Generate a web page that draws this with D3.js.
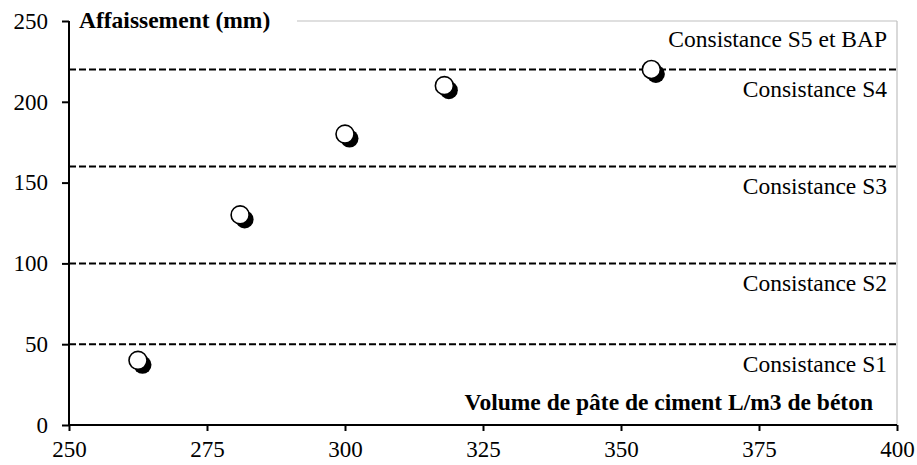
<!DOCTYPE html>
<html>
<head>
<meta charset="utf-8">
<script src="https://cdn.jsdelivr.net/npm/d3@7"></script>
<style>
  html, body { margin: 0; padding: 0; background: #fff; }
  svg text { font-family: "Liberation Serif", "Times New Roman", serif; fill: #000; }
</style>
</head>
<body>
<svg id="chart" width="917" height="465"></svg>
<script>
// -------------------------
// Data
// -------------------------
const volume = [262.5, 281, 300, 318, 355.5];
const slump = [40, 130, 180, 210, 220];
const xTicks = [250, 275, 300, 325, 350, 375, 400];
const yTicks = [0, 50, 100, 150, 200, 250];
const classLimits = [50, 100, 160, 220];
const classLabels = ["Consistance S1", "Consistance S2", "Consistance S3", "Consistance S4", "Consistance S5 et BAP"];
const classLabelY = [50, 100, 160, 220, 220];
const classLabelSide = ["below", "below", "below", "below", "above"];

// -------------------------
// Layout
// -------------------------
const W = 917, H = 465;
const margin = {top: 21, right: 20, bottom: 40, left: 69};
const FONT = '"Liberation Serif", "Times New Roman", serif';
const svg = d3.select("#chart");

const x = d3.scaleLinear().domain([250, 400]).range([margin.left, W - margin.right]);
const y = d3.scaleLinear().domain([0, 250]).range([H - margin.bottom, margin.top]);

// plot area border (light grey, top and right)
svg.append("line")
    .attr("x1", 297).attr("x2", x(400))
    .attr("y1", y(250)).attr("y2", y(250))
    .attr("stroke", "#c0c0c0").attr("stroke-width", 1.2);
svg.append("line")
    .attr("x1", x(400)).attr("x2", x(400))
    .attr("y1", y(250)).attr("y2", y(0))
    .attr("stroke", "#c0c0c0").attr("stroke-width", 1.2);

// class limits
svg.selectAll("line.limit")
    .data(classLimits)
    .enter().append("line")
    .attr("class", "limit")
    .attr("x1", x(250)).attr("x2", x(400))
    .attr("y1", d => y(d)).attr("y2", d => y(d))
    .attr("stroke", "#000")
    .attr("stroke-width", 2)
    .attr("stroke-dasharray", "7,3");

svg.selectAll("text.cls")
    .data(classLabels)
    .enter().append("text")
    .attr("class", "cls")
    .attr("x", 887)
    .attr("y", (d, i) => y(classLabelY[i]) + (classLabelSide[i] === "below" ? 28 : -22))
    .attr("text-anchor", "end")
    .style("font-family", FONT)
    .style("font-size", "23.5px")
    .text(d => d);

// axes
const xAxis = d3.axisBottom(x).tickValues(xTicks).tickSize(6).tickPadding(10);
const yAxis = d3.axisLeft(y).tickValues(yTicks).tickSize(7).tickPadding(14);

const gx = svg.append("g")
    .attr("transform", `translate(0,${y(0)})`)
    .call(xAxis);
const gy = svg.append("g")
    .attr("transform", `translate(${x(250)},0)`)
    .call(yAxis);

[gx, gy].forEach(g => {
    g.attr("font-family", null);
    g.select(".domain").attr("stroke", "#000").attr("stroke-width", 2);
    g.selectAll(".tick line").attr("stroke", "#000").attr("stroke-width", 2);
    g.selectAll(".tick text")
        .style("font-family", FONT)
        .style("font-size", "23px")
        .attr("fill", "#000");
});
gx.select(".domain").attr("d", `M${x(250)},0H${x(400)}`);
gy.select(".domain").attr("d", `M0,${y(0)}V${y(250)}`);

// axis titles
svg.append("text")
    .attr("x", 79).attr("y", 28)
    .style("font-family", FONT)
    .style("font-size", "23.5px")
    .style("font-weight", "bold")
    .text("Affaissement (mm)");

svg.append("text")
    .attr("x", 873).attr("y", 410)
    .attr("text-anchor", "end")
    .style("font-family", FONT)
    .style("font-size", "23.5px")
    .style("font-weight", "bold")
    .text("Volume de pâte de ciment L/m3 de béton");

// points: black shadow + white circle
const pts = volume.map((v, i) => ({vol: v, slump: slump[i]}));
const gp = svg.append("g");
gp.selectAll("circle.shadow")
    .data(pts)
    .enter().append("circle")
    .attr("class", "shadow")
    .attr("cx", d => x(d.vol) + 4.5)
    .attr("cy", d => y(d.slump) + 4.5)
    .attr("r", 9)
    .attr("fill", "#000");
gp.selectAll("circle.dot")
    .data(pts)
    .enter().append("circle")
    .attr("class", "dot")
    .attr("cx", d => x(d.vol))
    .attr("cy", d => y(d.slump))
    .attr("r", 9)
    .attr("fill", "#fff")
    .attr("stroke", "#000")
    .attr("stroke-width", 1.6);
</script>
</body>
</html>
